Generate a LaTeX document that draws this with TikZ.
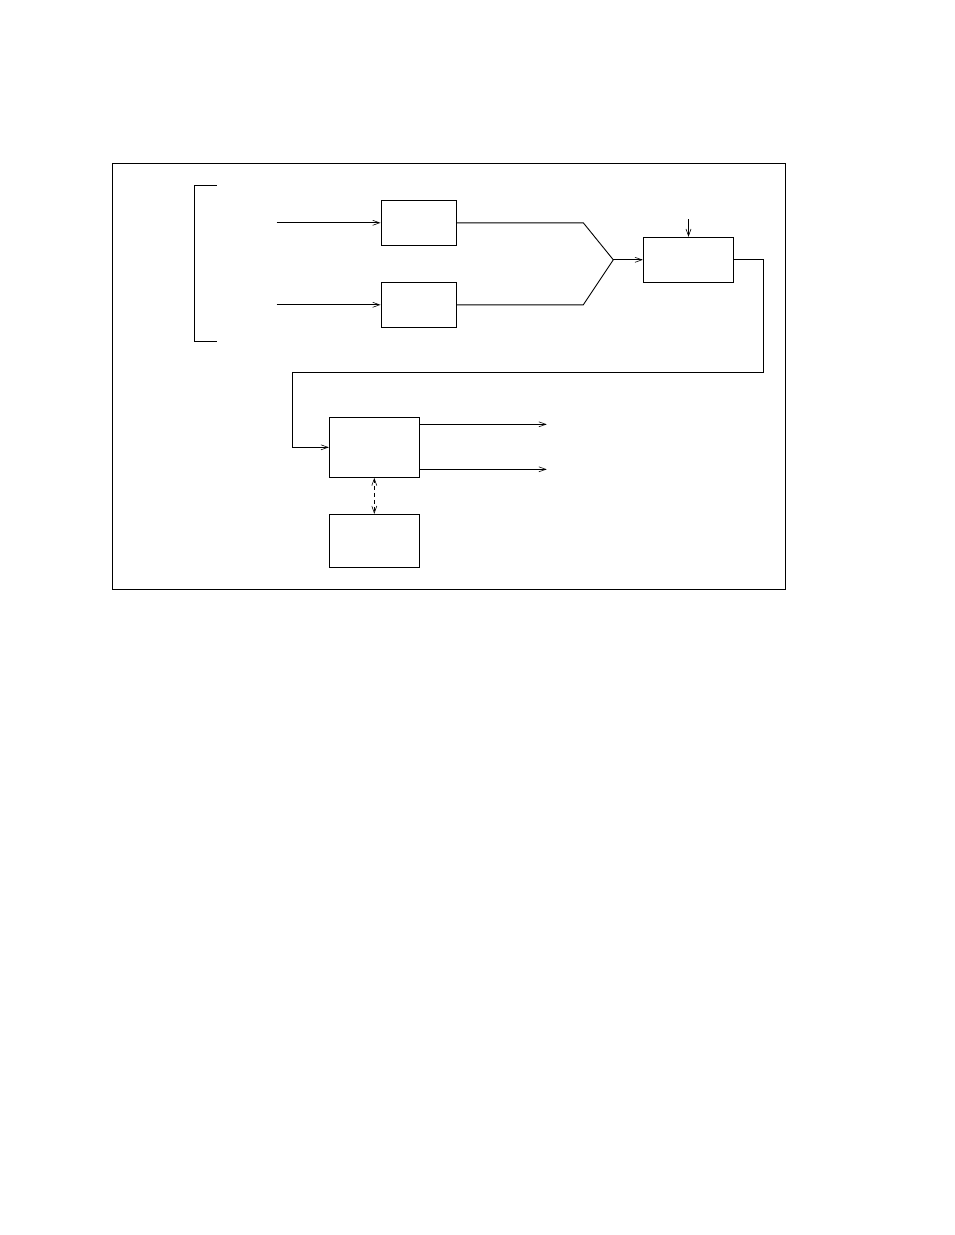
\documentclass[tikz,border=0pt]{standalone}
\usetikzlibrary{arrows.meta}
\begin{document}
\begin{tikzpicture}[x=1pt,y=-1pt,line width=0.9pt,
  blk/.style={draw,inner sep=0pt,minimum width=#1},
  tip/.style={-{Straight Barb[length=7pt,width=5pt,line width=0.6pt]}},
  dtip/.style={{Straight Barb[length=7pt,width=5pt,line width=0.6pt]}-{Straight Barb[length=7pt,width=5pt,line width=0.6pt]}}]
\useasboundingbox (0,0) rectangle (954,1235);
% frame
\draw (112,163) rectangle (785,589);
% bracket
\draw (216.5,185) -- (194.3,185) -- (194.3,341.5) -- (216.5,341.5);
% boxes
\node[blk=75.7pt,minimum height=45pt] (A) at (418.85,222.8) {};
\node[blk=75.7pt,minimum height=45pt] (B) at (418.85,304.8) {};
\node[blk=90.4pt,minimum height=45pt] (C) at (688.5,259.8) {};
\node[blk=90pt,minimum height=60pt] (D) at (374.3,447.3) {};
\node[blk=90pt,minimum height=53pt] (E) at (374.3,540.8) {};
% free ends
\coordinate (ina) at (276.7,222.8);
\coordinate (inb) at (276.7,304.8);
\coordinate (ma) at (583.3,222.8);
\coordinate (mb) at (583.3,304.8);
\coordinate (m) at (613.3,259.8);
\coordinate (topc) at (688.5,219);
\coordinate (r1) at (763.3,259.8);
\coordinate (r2) at (763.3,372.3);
\coordinate (r3) at (292.3,372.3);
\coordinate (r4) at (292.3,447.3);
\coordinate (o1s) at (419.3,424.3);
\coordinate (o1) at (546.7,424.3);
\coordinate (o2s) at (419.3,469.3);
\coordinate (o2) at (546.7,469.3);
% connectors
\draw[tip] (ina) -- (A.west);
\draw[tip] (inb) -- (B.west);
\draw (A.east) -- (ma) -- (m);
\draw (B.east) -- (mb) -- (m);
\draw[tip] (m) -- (C.west);
\draw[tip] (topc) -- (C.north);
\draw[tip] (C.east) -- (r1) -- (r2) -- (r3) -- (r4) -- (D.west);
\draw[tip] (o1s) -- (o1);
\draw[tip] (o2s) -- (o2);
\draw[dtip,dash pattern=on 4pt off 3pt] (D.south) -- (E.north);
\end{tikzpicture}
\end{document}
